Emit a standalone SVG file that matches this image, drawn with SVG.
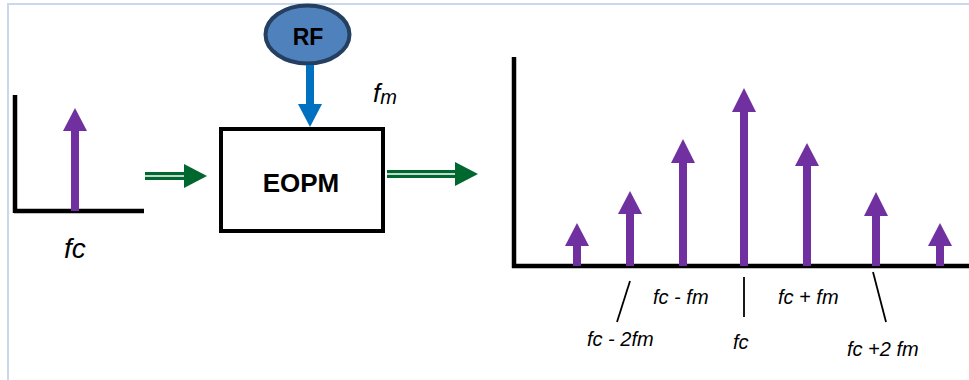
<svg xmlns="http://www.w3.org/2000/svg" width="969" height="380" viewBox="0 0 969 380">
<style>
.axis{stroke:#000;stroke-width:4.5;fill:none}
.sh{fill:#7030a0}
.lbl{font-family:"Liberation Sans",Arial,sans-serif;font-style:italic;font-size:20px;fill:#000}
.tick{stroke:#000;stroke-width:1.8}
.gs{stroke:#00682f;stroke-width:8}
.gw{stroke:#fff;stroke-width:1.4}
.gh{fill:#00682f}
</style>
<rect x="8" y="4" width="990" height="420" fill="#fff" stroke="#c9d8ee" stroke-width="2"/>
<g id="input-spectrum">
<path class="axis" d="M15,95 V213 M14,211 H144"/>
<rect class="sh" x="71" y="129" width="8" height="82"/>
<polygon class="sh" points="63,131 75,108 87,131"/>
<text class="lbl" x="64" y="258" style="font-size:28px">fc</text>
</g>
<g id="rf">
<ellipse cx="307.5" cy="34.5" rx="42" ry="29" fill="#4f81bd" stroke="#243f60" stroke-width="4"/>
<text x="308" y="45" text-anchor="middle" font-family="'Liberation Sans',Arial,sans-serif" font-weight="bold" font-size="23">RF</text>
</g>
<g id="eopm">
<rect x="221" y="129" width="162" height="102" fill="#fff" stroke="#000" stroke-width="4"/>
<text x="301" y="192" text-anchor="middle" font-family="'Liberation Sans',Arial,sans-serif" font-weight="bold" font-size="26">EOPM</text>
</g>
<text id="fm-label" font-family="'Liberation Sans',Arial,sans-serif" font-style="italic" font-size="26" x="373" y="102">f<tspan font-size="20" dy="2">m</tspan></text>
<g id="connectors">
<rect x="306" y="65" width="8" height="41" fill="#0070c0"/>
<polygon points="298,104 310,127 322,104" fill="#0070c0"/>
<line class="gs" x1="145" y1="176" x2="186" y2="176"/>
<line class="gw" x1="145" y1="176" x2="186" y2="176"/>
<polygon class="gh" points="184,164 207,176 184,188"/>
<line class="gs" x1="387" y1="174" x2="457" y2="174"/>
<line class="gw" x1="387" y1="174" x2="457" y2="174"/>
<polygon class="gh" points="455,162 478,174 455,186"/>
</g>
<g id="output-spectrum">
<path class="axis" d="M514,57 V268 M512,266 H969"/>
<rect class="sh" x="573" y="244" width="8" height="22"/>
<polygon class="sh" points="565,246 577,223 589,246"/>
<rect class="sh" x="626" y="212" width="8" height="54"/>
<polygon class="sh" points="618,214 630,191 642,214"/>
<rect class="sh" x="679" y="161" width="8" height="105"/>
<polygon class="sh" points="671,163 683,139 695,163"/>
<rect class="sh" x="740" y="110" width="8" height="156"/>
<polygon class="sh" points="732,112 744,88 756,112"/>
<rect class="sh" x="803" y="164" width="8" height="102"/>
<polygon class="sh" points="795,166 807,143 819,166"/>
<rect class="sh" x="872" y="214" width="8" height="52"/>
<polygon class="sh" points="864,216 876,192 888,216"/>
<rect class="sh" x="936" y="244" width="8" height="22"/>
<polygon class="sh" points="928,246 940,223 952,246"/>
</g>
<g id="labels">
<line class="tick" x1="630" y1="281" x2="617" y2="322"/>
<line class="tick" x1="744" y1="277" x2="744" y2="317"/>
<line class="tick" x1="873" y1="272" x2="886" y2="322"/>
<text class="lbl" x="587" y="346">fc - 2fm</text>
<text class="lbl" x="653" y="304">fc - fm</text>
<text class="lbl" x="733" y="349">fc</text>
<text class="lbl" x="778" y="304">fc + fm</text>
<text class="lbl" x="847" y="356">fc +2 fm</text>
</g>
</svg>
